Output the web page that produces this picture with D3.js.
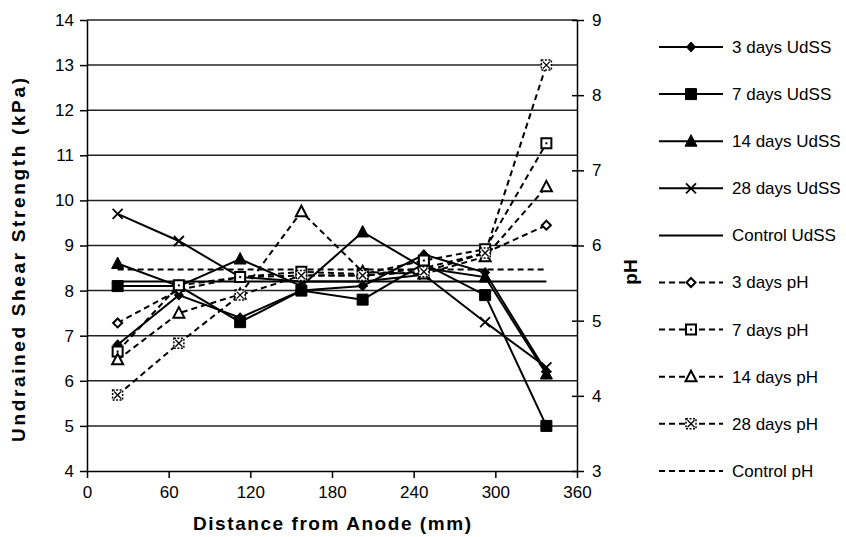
<!DOCTYPE html>
<html>
<head>
<meta charset="utf-8">
<script src="https://cdn.jsdelivr.net/npm/d3@7"></script>
<style>
  body { margin: 0; background: #fff; }
  text { font-family: "Liberation Sans", Arial, sans-serif; fill: #000; }
  .tick-label { font-size: 17px; }
  .title { font-size: 19px; font-weight: bold; }
  .legend-label { font-size: 17px; }
</style>
</head>
<body>
<div id="chart-area"><svg></svg></div>
<script>
// distances of the sampling points (mm)
const distances = [22.5, 67.5, 112.5, 157.5, 202.5, 247.5, 292.5, 337.5];

// undrained shear strength (kPa), left axis
const udss3 = [6.8, 7.9, 7.4, 8.0, 8.1, 8.8, 8.4, 6.2];
const udss7 = [8.1, 8.1, 7.3, 8.0, 7.8, 8.6, 7.9, 5.0];
const udss14 = [8.6, 8.1, 8.7, 8.1, 9.3, 8.5, 8.3, 6.15];
const udss28 = [9.7, 9.1, 8.3, 8.2, 8.2, 8.35, 7.3, 6.3];
const udssControl = [8.2, 8.2, 8.2, 8.2, 8.2, 8.2, 8.2, 8.2];

// pH, right axis
const ph3 = [4.97, 5.41, 5.58, 5.6, 5.6, 5.7, 5.9, 6.27];
const ph7 = [4.59, 5.47, 5.58, 5.65, 5.62, 5.8, 5.95, 7.36];
const ph14 = [4.48, 5.1, 5.35, 6.45, 5.65, 5.62, 5.85, 6.78];
const ph28 = [4.01, 4.7, 5.34, 5.6, 5.6, 5.65, 5.9, 8.4];
const phControl = [5.68, 5.68, 5.68, 5.68, 5.68, 5.68, 5.68, 5.68];

const xTicks = [0, 60, 120, 180, 240, 300, 360];
const leftTicks = [4, 5, 6, 7, 8, 9, 10, 11, 12, 13, 14];
const rightTicks = [3, 4, 5, 6, 7, 8, 9];

const series = [
  { name: "3 days UdSS", values: udss3, axis: "left", dashed: false, marker: "diamond" },
  { name: "7 days UdSS", values: udss7, axis: "left", dashed: false, marker: "square" },
  { name: "14 days UdSS", values: udss14, axis: "left", dashed: false, marker: "triangle" },
  { name: "28 days UdSS", values: udss28, axis: "left", dashed: false, marker: "cross" },
  { name: "Control UdSS", values: udssControl, axis: "left", dashed: false, marker: null },
  { name: "3 days pH", values: ph3, axis: "right", dashed: true, marker: "diamondOpen" },
  { name: "7 days pH", values: ph7, axis: "right", dashed: true, marker: "squareOpen" },
  { name: "14 days pH", values: ph14, axis: "right", dashed: true, marker: "triangleOpen" },
  { name: "28 days pH", values: ph28, axis: "right", dashed: true, marker: "squareX" },
  { name: "Control pH", values: phControl, axis: "right", dashed: true, marker: null }
];

const chartSize = { width: 846, height: 537 };
const plot = { left: 87, right: 577, top: 20, bottom: 471 };

const svg = d3.select("#chart-area svg")
  .attr("width", chartSize.width)
  .attr("height", chartSize.height);

const x = d3.scaleLinear().domain([0, 360]).range([plot.left, plot.right]);
const yLeft = d3.scaleLinear().domain([4, 14]).range([plot.bottom, plot.top]);
const yRight = d3.scaleLinear().domain([3, 9]).range([plot.bottom, plot.top]);

// gridlines
svg.append("g")
  .selectAll("line")
  .data(leftTicks.slice(1))
  .join("line")
  .attr("x1", plot.left)
  .attr("x2", plot.right)
  .attr("y1", d => yLeft(d))
  .attr("y2", d => yLeft(d))
  .attr("stroke", "#222")
  .attr("stroke-width", 1.5);

// axes
const styleAxis = g => {
  g.select(".domain").attr("stroke", "#000").attr("stroke-width", 1.5);
  g.selectAll(".tick line").attr("stroke", "#000").attr("stroke-width", 1.5);
  g.selectAll(".tick text")
    .attr("class", "tick-label")
    .attr("font-family", null)
    .attr("font-size", null);
};

svg.append("g")
  .attr("transform", `translate(${plot.left},0)`)
  .call(d3.axisLeft(yLeft).tickValues(leftTicks).tickFormat(d3.format("d"))
    .tickSize(7).tickPadding(6).tickSizeOuter(0))
  .call(styleAxis);

svg.append("g")
  .attr("transform", `translate(0,${plot.bottom})`)
  .call(d3.axisBottom(x).tickValues(xTicks).tickFormat(d3.format("d"))
    .tickSize(7).tickPadding(8).tickSizeOuter(0))
  .call(styleAxis);

const rightAxis = svg.append("g")
  .attr("transform", `translate(${plot.right},0)`)
  .call(d3.axisRight(yRight).tickValues(rightTicks).tickFormat(d3.format("d"))
    .tickSize(7).tickPadding(8).tickSizeOuter(0))
  .call(styleAxis);
rightAxis.selectAll(".tick line").attr("x1", -5);

// axis titles
svg.append("text")
  .attr("class", "title")
  .attr("x", (plot.left + plot.right) / 2)
  .attr("y", 530)
  .attr("text-anchor", "middle")
  .attr("textLength", 278)
  .attr("lengthAdjust", "spacing")
  .text("Distance from Anode (mm)");

svg.append("text")
  .attr("class", "title")
  .attr("transform", `translate(25,${(77 + 443) / 2}) rotate(-90)`)
  .attr("text-anchor", "middle")
  .attr("textLength", 364)
  .attr("lengthAdjust", "spacing")
  .text("Undrained Shear Strength (kPa)");

svg.append("text")
  .attr("class", "title")
  .attr("transform", "translate(637,272) rotate(-90)")
  .attr("text-anchor", "middle")
  .text("pH");

// marker shapes
const markerPath = (type) => {
  switch (type) {
    case "diamond": return "M0,-5L4.5,0L0,5L-4.5,0Z";
    case "square": return "M-5.5,-5.5H5.5V5.5H-5.5Z";
    case "triangle": return "M0,-6.5L6,5L-6,5Z";
    case "cross": return "M-5,-5L5,5M-5,5L5,-5";
    case "diamondOpen": return "M0,-4.5L4.5,0L0,4.5L-4.5,0Z";
    case "squareOpen": return "M-5,-5H5V5H-5Z";
    case "triangleOpen": return "M0,-6L5.5,4.5L-5.5,4.5Z";
    case "squareX": return "M-5,-5H5V5H-5Z";
  }
  return null;
};

const drawMarker = (g, type, cx, cy) => {
  const m = g.append("g").attr("transform", `translate(${cx},${cy})`);
  const p = m.append("path").attr("d", markerPath(type));
  if (type === "diamond" || type === "square" || type === "triangle") {
    p.attr("fill", "#000").attr("stroke", "#000").attr("stroke-width", 1);
  } else if (type === "cross") {
    p.attr("fill", "none").attr("stroke", "#000").attr("stroke-width", 1.8);
  } else {
    p.attr("fill", "#fff").attr("stroke", "#000").attr("stroke-width", 2);
  }
  if (type === "squareOpen") {
    m.append("rect").attr("x", -1).attr("y", -1).attr("width", 2).attr("height", 2).attr("fill", "#000");
  }
  if (type === "squareX") {
    p.attr("stroke-dasharray", "2,1.5").attr("stroke-width", 1.5);
    m.append("path").attr("d", "M-3.5,-3.5L3.5,3.5M-3.5,3.5L3.5,-3.5")
      .attr("stroke", "#000").attr("stroke-width", 1.3);
  }
};

// series lines and markers
const plotG = svg.append("g");
series.forEach(s => {
  const yScale = s.axis === "left" ? yLeft : yRight;
  const line = d3.line()
    .x((v, i) => x(distances[i]))
    .y(v => yScale(v));
  plotG.append("path")
    .attr("d", line(s.values))
    .attr("fill", "none")
    .attr("stroke", "#000")
    .attr("stroke-width", 2)
    .attr("stroke-dasharray", s.dashed ? "6,4" : null);
});
series.forEach(s => {
  if (!s.marker) return;
  const yScale = s.axis === "left" ? yLeft : yRight;
  s.values.forEach((v, i) => drawMarker(plotG, s.marker, x(distances[i]), yScale(v)));
});

// legend
const legend = svg.append("g");
const legendX1 = 659, legendX2 = 723, legendTop = 47, legendStep = 47.1;
series.forEach((s, i) => {
  const ly = legendTop + i * legendStep;
  legend.append("line")
    .attr("x1", legendX1)
    .attr("x2", legendX2)
    .attr("y1", ly)
    .attr("y2", ly)
    .attr("stroke", "#000")
    .attr("stroke-width", 2)
    .attr("stroke-dasharray", s.dashed ? "6,4" : null);
  if (s.marker) drawMarker(legend, s.marker, (legendX1 + legendX2) / 2, ly);
  legend.append("text")
    .attr("class", "legend-label")
    .attr("x", 732)
    .attr("y", ly)
    .attr("dy", "0.35em")
    .text(s.name);
});
</script>
</body>
</html>
